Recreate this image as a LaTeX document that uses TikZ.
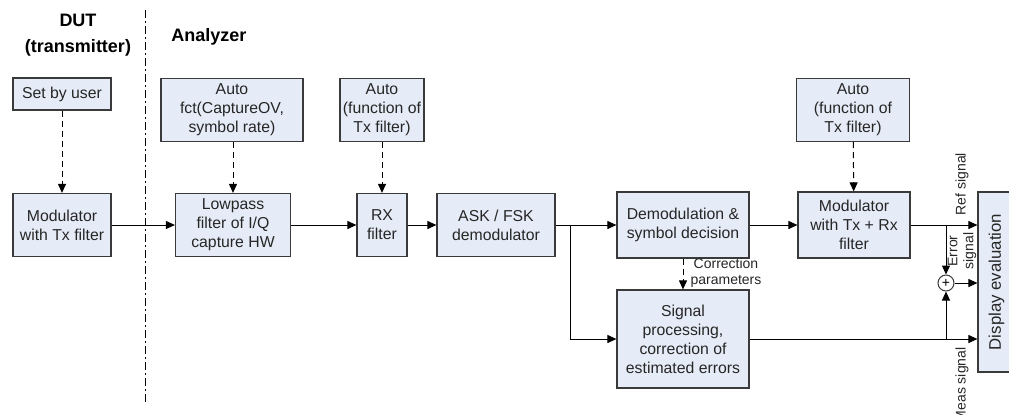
\documentclass[tikz,border=0pt]{standalone}
\usepackage{fontspec}
\setmainfont{Liberation Sans}
\usepackage{xcolor}
\usetikzlibrary{arrows.meta}

\definecolor{boxfill}{HTML}{E6ECF7}
\definecolor{boxline}{HTML}{3A3A3A}

\begin{document}
\begin{tikzpicture}[
  x=0.5pt,y=-0.5pt,
  blk/.style={draw=boxline,fill=boxfill,line width=0.6pt,inner sep=1pt,align=center,
    text=black!85,font=\fontsize{7.9}{9.5}\selectfont},
  lbl/.style={font=\fontsize{7}{8}\selectfont,align=center,text=black!85,inner sep=0pt},
  head/.style={font=\fontsize{9}{13}\selectfont\bfseries,align=center},
  arr/.style={-{Triangle[length=4.5pt,width=4pt]},line width=0.5pt},
  dsh/.style={arr,dashed,dash pattern=on 3pt off 2pt}
]
  \useasboundingbox (0,0) rectangle (1009,414);

  % Headers and divider
  \node[head] (dut) at (78,35) {DUT\\(transmitter)};
  \node[head,anchor=west,inner sep=0pt] (ana) at (171,37) {Analyzer};
  \draw[line width=0.5pt,dash pattern=on 4pt off 1.5pt on 1pt off 1.5pt] (145,10) -- (145,405);

  % Transmitter side
  \node[blk,minimum width=49pt,minimum height=16pt] (user) at (62,94) {Set by user};
  \node[blk,minimum width=49pt,minimum height=31.5pt] (mod) at (62,225) {Modulator\\with Tx filter};

  % Settings
  \node[blk,minimum width=71pt,minimum height=31.5pt] (autofct) at (232,110) {Auto\\fct(CaptureOV,\\symbol rate)};
  \node[blk,minimum width=42pt,minimum height=31.5pt] (autorx) at (382,110) {Auto\\(function of\\Tx filter)};
  \node[blk,minimum width=56.5pt,minimum height=31.5pt] (autotx) at (853,110) {Auto\\(function of\\Tx filter)};

  % Analyzer chain
  \node[blk,minimum width=57.5pt,minimum height=31.5pt] (lowpass) at (233,225) {Lowpass\\filter of I/Q\\capture HW};
  \node[blk,minimum width=25pt,minimum height=31.5pt] (rx) at (382,225) {RX\\filter};
  \node[blk,minimum width=59pt,minimum height=31.5pt] (ask) at (496,225) {ASK / FSK\\demodulator};
  \node[blk,minimum width=66pt,minimum height=33pt] (demod) at (683,225) {Demodulation \&\\symbol decision};
  \node[blk,minimum width=66pt,minimum height=49pt] (sigproc) at (683,339) {Signal\\processing,\\correction of\\estimated errors};
  \node[blk,minimum width=56pt,minimum height=33pt] (remod) at (854,225) {Modulator\\with Tx + Rx\\filter};
  \node[blk,minimum width=18.5pt,minimum height=90pt] (disp) at (996.5,282) {};
  \node[blk,fill=none,draw=none,rotate=90,font=\fontsize{8.4}{10}\selectfont] (disptxt) at (disp.center) {Display evaluation};
  \node[draw=boxline,fill=white,circle,line width=0.5pt,minimum size=8pt,inner sep=0pt,
    font=\fontsize{7}{7}\selectfont] (sum) at (946,283) {+};

  % Settings arrows
  \draw[dsh] (user) -- (mod);
  \draw[dsh] (autofct.south -| lowpass) -- (lowpass);
  \draw[dsh] (autorx) -- (rx);
  \draw[dsh] (autotx) -- (remod);

  % Signal flow
  \draw[arr] (mod) -- (lowpass);
  \draw[arr] (lowpass) -- (rx);
  \draw[arr] (rx) -- (ask);
  \draw[arr] (ask) -- (demod);
  \coordinate (split) at (570,225);
  \draw[arr] (split) |- (sigproc.west);
  \draw[arr] (demod) -- (remod);
  \draw[dsh] (demod) -- (sigproc);
  \node[lbl] (corr) at (726,273) {Correction\\parameters};

  % Into display
  \draw[arr] (remod.east) -- (remod.east -| disp.west);
  \draw[arr] (sum) -- (sum -| disp.west);
  \draw[arr] (sigproc.east) -- (sigproc.east -| disp.west);
  \coordinate (tapref) at (946,225);
  \coordinate (tapmeas) at (946,339);
  \draw[arr] (tapref) -- (sum.north);
  \draw[arr] (tapmeas) -- (sum.south);
  \node[lbl,rotate=90] (reflbl) at (962,184) {Ref signal};
  \node[lbl,rotate=90] (errlbl) at (962,251) {Error\\signal};
  \node[lbl,rotate=90,anchor=east] (measlbl) at (962,347) {Meas signal};
\end{tikzpicture}
\end{document}
